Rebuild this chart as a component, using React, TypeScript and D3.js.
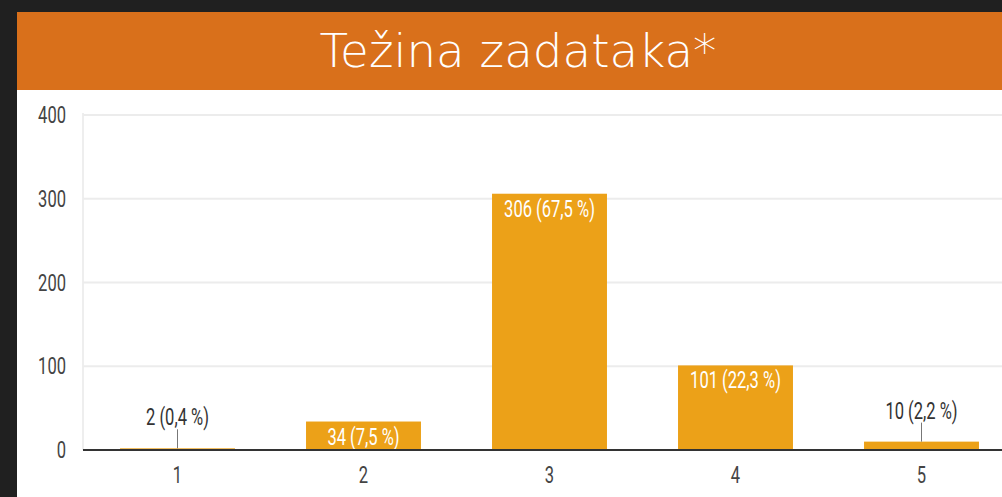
import React from "react";
import * as d3 from "d3";

const categories = ["1", "2", "3", "4", "5"];
const counts = [2, 34, 306, 101, 10];
const percents = ["0,4", "7,5", "67,5", "22,3", "2,2"];
const yTicks = [0, 100, 200, 300, 400];
const title = "Težina zadataka*";

const W = 1002;
const H = 497;

export default function App() {
  const x = d3.scaleBand<string>().domain(categories).range([84.5, 1014.5]).paddingInner(0.382).paddingOuter(0.191);
  const y = d3.scaleLinear().domain([0, 400]).range([450, 115]);
  const sx = 0.72;
  const font = "Roboto, 'Noto Sans', sans-serif";

  const cText = (tx: number, ty: number, s: string, fill: string, size = 23, anchor = "middle") => (
    <g transform={`translate(${tx},${ty}) scale(${sx},1)`}>
      <text x={0} y={0} textAnchor={anchor} fontFamily={font} fontSize={size} fill={fill}>{s}</text>
    </g>
  );

  return (
    <svg width={W} height={H} style={{ position: "absolute", left: 0, top: 0, display: "block" }}>
      <rect x={0} y={0} width={W} height={H} fill="#202020" />
      <rect x={17} y={12} width={W - 17} height={78} fill="#D9701B" />
      <rect x={17} y={90} width={W - 17} height={H - 90} fill="#ffffff" />
      <text x={518} y={67} textAnchor="middle" fontFamily="'DejaVu Sans', Lato, sans-serif" fontWeight={200} fontSize={46} fill="#ffffff" textLength={397} lengthAdjust="spacingAndGlyphs">{title}</text>
      {/* grid */}
      <line x1={83} x2={83} y1={113} y2={450} stroke="#eeeeee" strokeWidth={2} />
      {yTicks.filter((t) => t > 0).map((t) => (
        <line key={t} x1={83} x2={W} y1={y(t)} y2={y(t)} stroke="#ececec" strokeWidth={2} />
      ))}
      {yTicks.map((t) => (
        <g key={"yl" + t}>{cText(66, y(t) + 8, String(t), "#444444", 23, "end")}</g>
      ))}
      {/* bars */}
      {categories.map((c, i) => {
        const bx = x(c)!;
        const bw = x.bandwidth();
        const top = y(counts[i]);
        const cx = bx + bw / 2;
        const label = `${counts[i]} (${percents[i]} %)`;
        const inside = y(0) - top > 25;
        return (
          <g key={c}>
            <rect x={bx} y={top} width={bw} height={y(0) - top} fill="#ECA118" />
            {inside ? (
              cText(cx, top + 23, label, "#ffffff")
            ) : (
              <g>
                <line x1={cx} x2={cx} y1={top - 19} y2={top} stroke="#777777" strokeWidth={1} />
                {cText(cx, top - 23, label, "#333333")}
              </g>
            )}
            {cText(cx, 483, c, "#444444")}
          </g>
        );
      })}
      <line x1={83} x2={W} y1={450} y2={450} stroke="#333333" strokeWidth={2} />
    </svg>
  );
}
